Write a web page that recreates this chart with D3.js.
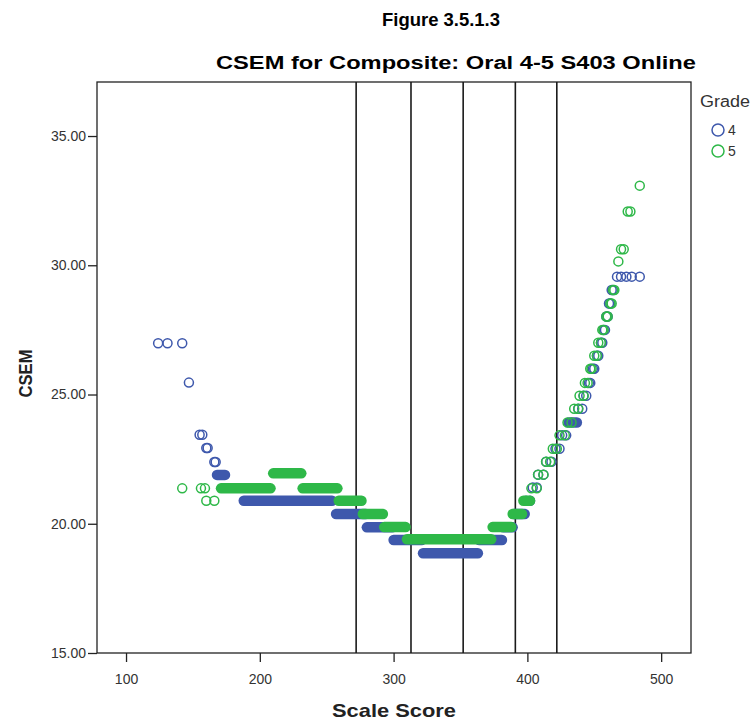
<!DOCTYPE html>
<html>
<head>
<meta charset="utf-8">
<script src="https://cdn.jsdelivr.net/npm/d3@7"></script>
<style>
  html, body { margin: 0; padding: 0; background: #fff; }
  svg { display: block; }
  text { font-family: "Liberation Sans", Arial, sans-serif; }
</style>
</head>
<body>
<div id="chart"></div>
<script>
// ---------------- data ----------------
const titleLine1 = "Figure 3.5.1.3";
const titleLine2 = "CSEM for Composite: Oral 4-5 S403 Online";
const xLabel = "Scale Score";
const yLabel = "CSEM";
const legendTitle = "Grade";
const grades = ["4", "5"];
const xTicks = [100, 200, 300, 400, 500];
const yTicks = [15, 20, 25, 30, 35];
const cutScores = [272, 313, 352, 391, 422];

// runs of consecutive scale scores sharing a CSEM: [firstScore, lastScore, csem]
const grade4Runs = [
  [124, 124, 26.98], [131, 131, 26.98], [142, 142, 26.98],
  [147, 147, 25.46],
  [155, 157, 23.44], [160, 161, 22.93], [166, 167, 22.39], [168, 174, 21.89],
  [188, 254, 20.89], [257, 279, 20.38], [280, 299, 19.86], [300, 321, 19.37],
  [322, 363, 18.86],
  [364, 381, 19.37], [382, 389, 19.86], [390, 398, 20.38], [399, 402, 20.89],
  [404, 407, 21.40], [408, 412, 21.90], [414, 418, 22.40], [421, 424, 22.90],
  [426, 429, 23.42], [431, 437, 23.92], [438, 441, 24.45], [442, 444, 24.95],
  [446, 447, 25.45], [449, 450, 26.00], [452, 453, 26.50], [455, 456, 27.00],
  [457, 458, 27.50], [459, 460, 28.02], [461, 462, 28.52], [463, 464, 29.04],
  [467, 467, 29.56], [470, 470, 29.56], [474, 474, 29.56], [478, 478, 29.56],
  [484, 484, 29.56]
];
const grade5Runs = [
  [142, 142, 21.37], [156, 156, 21.37], [159, 159, 21.37],
  [160, 160, 20.89], [166, 166, 20.89],
  [171, 208, 21.37], [210, 231, 21.95], [232, 258, 21.37], [259, 276, 20.89],
  [277, 292, 20.38], [293, 309, 19.87], [310, 373, 19.40], [374, 388, 19.87],
  [389, 396, 20.38], [397, 402, 20.89],
  [403, 407, 21.37], [408, 412, 21.90], [414, 417, 22.40], [419, 422, 22.90],
  [424, 428, 23.42], [430, 433, 23.92], [435, 438, 24.45], [439, 442, 24.95],
  [443, 445, 25.45], [447, 448, 26.00], [450, 452, 26.50], [453, 455, 27.00],
  [456, 457, 27.50], [459, 460, 28.02], [462, 463, 28.52], [464, 465, 29.04],
  [468, 468, 30.15], [470, 472, 30.62], [475, 477, 32.08], [484, 484, 33.08]
];
const gradeColors = ["#3E58AC", "#2EB848"];

// ---------------- layout ----------------
const W = 754, H = 725;
const plot = { left: 97, right: 691, top: 82, bottom: 653 };

const svg = d3.select("#chart").append("svg")
  .attr("width", W).attr("height", H);

const x = d3.scaleLinear().domain([78.3, 522.3]).range([plot.left, plot.right]);
const y = d3.scaleLinear().domain([15, 37.09]).range([plot.bottom, plot.top]);

// titles
svg.append("text").attr("x", 441).attr("y", 26)
  .attr("text-anchor", "middle").attr("font-size", 19).attr("font-weight", "bold")
  .attr("textLength", 118).attr("lengthAdjust", "spacingAndGlyphs")
  .attr("fill", "#000").text(titleLine1);
svg.append("text").attr("x", 456).attr("y", 69)
  .attr("text-anchor", "middle").attr("font-size", 18).attr("font-weight", "bold")
  .attr("textLength", 480).attr("lengthAdjust", "spacingAndGlyphs")
  .attr("fill", "#000").text(titleLine2);

// axes
const axisColor = "#222";
const yAxis = svg.append("g").attr("transform", `translate(${plot.left},0)`)
  .call(d3.axisLeft(y).tickValues(yTicks).tickFormat(d3.format(".2f")).tickSize(9).tickPadding(2));
const xAxis = svg.append("g").attr("transform", `translate(0,${plot.bottom})`)
  .call(d3.axisBottom(x).tickValues(xTicks).tickFormat(d3.format("d")).tickSize(9).tickPadding(12));
[yAxis, xAxis].forEach(g => {
  g.select(".domain").remove();
  g.selectAll(".tick line").attr("stroke", axisColor).attr("stroke-width", 1.3);
  g.selectAll(".tick text").attr("fill", "#333").attr("font-size", 14)
    .attr("font-family", "Liberation Sans, Arial, sans-serif");
});

// frame
svg.append("rect").attr("x", plot.left).attr("y", plot.top)
  .attr("width", plot.right - plot.left).attr("height", plot.bottom - plot.top)
  .attr("fill", "none").attr("stroke", axisColor).attr("stroke-width", 1.3);

// cut score lines
svg.append("g").selectAll("line").data(cutScores).join("line")
  .attr("x1", d => x(d)).attr("x2", d => x(d))
  .attr("y1", plot.top).attr("y2", plot.bottom)
  .attr("stroke", "#1a1a1a").attr("stroke-width", 1.6);

// points
const R = 4.5, SW = 1.5;
function drawRuns(runs, color) {
  const g = svg.append("g");
  runs.forEach(([s, e, v]) => {
    const x0 = x(s), x1 = x(e), yy = y(v);
    if (x1 - x0 >= 6) {
      g.append("line").attr("x1", x0).attr("x2", x1).attr("y1", yy).attr("y2", yy)
        .attr("stroke", color).attr("stroke-width", 2 * R + SW)
        .attr("stroke-linecap", "round");
    } else {
      const pts = s === e ? [s] : [s, e];
      pts.forEach(p => {
        g.append("circle").attr("cx", x(p)).attr("cy", yy).attr("r", R)
          .attr("fill", "none").attr("stroke", color).attr("stroke-width", SW);
      });
    }
  });
}
drawRuns(grade4Runs, gradeColors[0]);
drawRuns(grade5Runs, gradeColors[1]);

// axis titles
svg.append("text").attr("x", 394).attr("y", 717)
  .attr("text-anchor", "middle").attr("font-size", 19).attr("font-weight", "bold")
  .attr("textLength", 124).attr("lengthAdjust", "spacingAndGlyphs")
  .attr("fill", "#222").text(xLabel);
svg.append("text").attr("transform", `translate(32,${(plot.top + plot.bottom) / 2 + 6}) rotate(-90)`)
  .attr("text-anchor", "middle").attr("font-size", 19).attr("font-weight", "bold")
  .attr("textLength", 48).attr("lengthAdjust", "spacingAndGlyphs")
  .attr("fill", "#222").text(yLabel);

// legend
const lg = svg.append("g");
lg.append("text").attr("x", 700).attr("y", 107).attr("font-size", 16)
  .attr("textLength", 50).attr("lengthAdjust", "spacingAndGlyphs")
  .attr("fill", "#333").text(legendTitle);
grades.forEach((gname, i) => {
  const cy = 130 + i * 21;
  lg.append("circle").attr("cx", 718).attr("cy", cy).attr("r", 6)
    .attr("fill", "none").attr("stroke", gradeColors[i]).attr("stroke-width", 1.5);
  lg.append("text").attr("x", 728).attr("y", cy + 5).attr("font-size", 14)
    .attr("fill", "#333").text(gname);
});
</script>
</body>
</html>
